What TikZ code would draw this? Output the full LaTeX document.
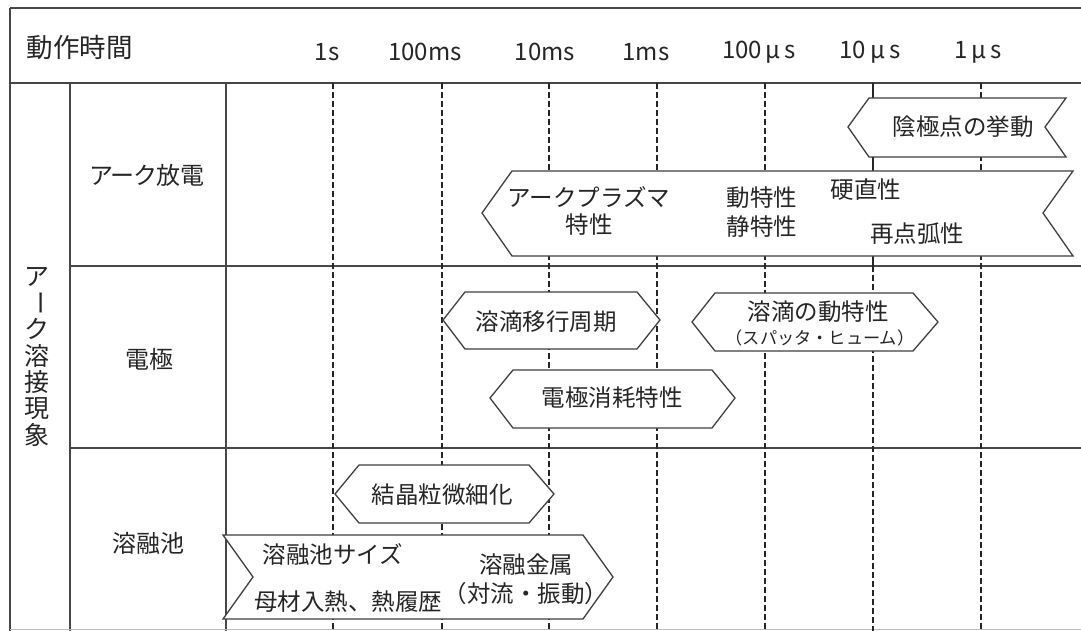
\documentclass[tikz,border=0pt]{standalone}
\usepackage{fontspec}
\setmainfont{Noto Sans CJK JP}
\newfontfamily\jpp[RawFeature=+palt]{Noto Sans CJK JP}
\begin{document}
\begin{tikzpicture}[x=1pt,y=-1pt,
  frame/.style={draw=black!72, line width=1.5pt},
  gridline/.style={draw=black!85, line width=1.4pt, dash pattern=on 6pt off 3pt},
  shp/.style={draw=black!75, line width=1.3pt, fill=white, line join=miter},
  txt/.style={inner sep=0pt, text=black!85, font=\fontsize{23.5}{28}\selectfont},
  small/.style={inner sep=0pt, text=black!85, font=\fontsize{17.2}{20}\selectfont},
  head/.style={inner sep=0pt, text=black!85, font=\fontsize{26.5}{30}\selectfont},
  tlab/.style={inner sep=0pt, text=black!85, font=\fontsize{24}{28}\selectfont},
  rlab/.style={inner sep=0pt, text=black!85, font=\fontsize{24}{28}\selectfont},
  vlab/.style={inner sep=0pt, text=black!85, font=\fontsize{25}{28}\selectfont}]
\useasboundingbox[fill=white] (0,0) rectangle (1081,631);

% frame
\draw[frame] (10,8) -- (1081,8);
\draw[frame] (10,8) -- (10,631);
\draw[frame] (10,83) -- (1081,83);
\draw[frame] (70,83) -- (70,631);
\draw[frame] (226,83) -- (226,631);
\draw[frame] (70,266) -- (1081,266);
\draw[frame] (70,448) -- (1081,448);
\draw[draw=black!25, line width=1pt] (10,629) -- (1081,629);

% time grid
\foreach \gx in {333,442,549,657,765,981}
  \draw[gridline] (\gx,83) -- (\gx,631);
\draw[frame, draw=black!85, line width=1.4pt] (873,83) -- (873,266);
\draw[gridline] (873,266) -- (873,631);

% header
\node[head] (hdr) at (80,47) {動作時間};
\node[tlab] (t1) at (327,52) {1s};
\node[tlab] (t2) at (425,52) {100ms};
\node[tlab] (t3) at (545,52) {10ms};
\node[tlab] (t4) at (646,52) {1ms};
\node[tlab] (t5) at (759,52) {100\makebox[0.95em][c]{μ}s};
\node[tlab] (t6) at (870,52) {10\makebox[0.95em][c]{μ}s};
\node[tlab] (t7) at (978,52) {1\makebox[0.95em][c]{μ}s};

% vertical category label
\node[vlab] (v1) at (37,277) {ア};
\node[vlab, rotate=-90] (v2) at (37,303) {ー};
\node[vlab] (v3) at (37,329) {ク};
\node[vlab] (v4) at (37,356) {溶};
\node[vlab] (v5) at (37,382) {接};
\node[vlab] (v6) at (37,409) {現};
\node[vlab] (v7) at (37,435) {象};

% row labels
\node[rlab] (r1) at (147,175) {\jpp アーク放電};
\node[rlab] (r2) at (149,359) {電極};
\node[rlab] (r3) at (148,543) {溶融池};

% shapes
\path[shp] (869,98) -- (1066,98) -- (1045,127) -- (1066,157) -- (869,157) -- (848,127) -- cycle;
\path[shp] (512,171) -- (1073,171) -- (1043,213) -- (1073,256) -- (512,256) -- (482,213) -- cycle;
\path[shp] (465,292) -- (637,292) -- (660,320) -- (637,349) -- (465,349) -- (443,320) -- cycle;
\path[shp] (715,293) -- (913,293) -- (938,322) -- (913,351) -- (715,351) -- (692,322) -- cycle;
\path[shp] (513,370) -- (712,370) -- (735,398) -- (712,428) -- (513,428) -- (490,398) -- cycle;
\path[shp] (359,465) -- (529,465) -- (554,494) -- (529,523) -- (359,523) -- (335,494) -- cycle;
\path[shp] (223,535) -- (583,535) -- (613,577) -- (583,619) -- (223,619) -- (253,577) -- cycle;

% shape texts
\node[txt] (a1) at (963,127) {陰極点の挙動};
\node[txt] (a2) at (589,197) {アークプラズマ};
\node[txt] (a3) at (589,225) {特性};
\node[txt] (a4) at (762,198) {動特性};
\node[txt] (a5) at (762,227) {静特性};
\node[txt] (a6) at (866,190) {硬直性};
\node[txt] (a7) at (917,234) {再点弧性};
\node[txt] (e1) at (546,322) {溶滴移行周期};
\node[txt] (e2) at (818,312) {溶滴の動特性};
\node[small] (e3) at (820,338) {（スパッタ・ヒューム）};
\node[txt] (e4) at (612,398) {電極消耗特性};
\node[txt] (p1) at (442,495) {結晶粒微細化};
\node[txt] (p2) at (333,554) {溶融池サイズ};
\node[txt] (p3) at (348,602) {母材入熱、熱履歴};
\node[txt] (p4) at (526,565) {溶融金属};
\node[txt] (p5) at (526,594) {（対流・振動）};
\end{tikzpicture}
\end{document}
